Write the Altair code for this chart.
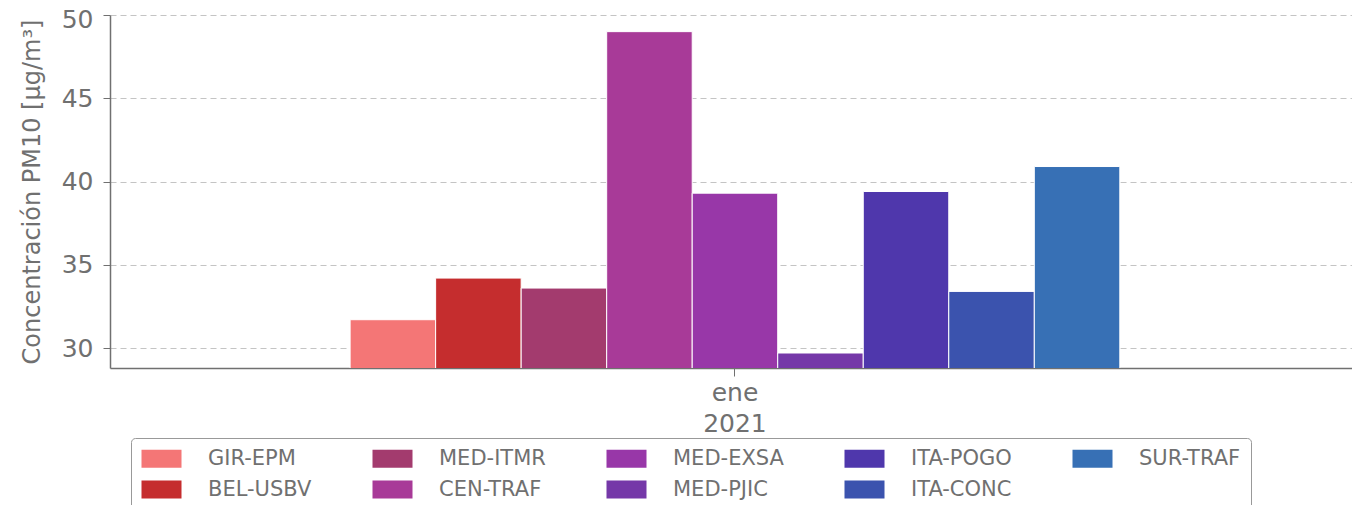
import altair as alt
import pandas as pd

stations = ["GIR-EPM", "BEL-USBV", "MED-ITMR", "CEN-TRAF", "MED-EXSA",
            "MED-PJIC", "ITA-POGO", "ITA-CONC", "SUR-TRAF"]
values = [31.7, 34.2, 33.6, 49.0, 39.3, 29.7, 39.4, 33.4, 40.9]
colors = ["#f47676", "#c52d2e", "#a33b6e", "#a83a98", "#9837a8",
          "#7538a8", "#4f37ac", "#3b53ae", "#3770b5"]
month = "ene 2021"
legend_order = ["GIR-EPM", "MED-ITMR", "MED-EXSA", "ITA-POGO", "SUR-TRAF",
                "BEL-USBV", "CEN-TRAF", "MED-PJIC", "ITA-CONC"]
y_ticks = [30, 35, 40, 45, 50]

df = pd.DataFrame({"mes": [month] * len(stations), "estacion": stations, "valor": values})
cmap = dict(zip(stations, colors))
legend_colors = [cmap[s] for s in legend_order]

GRAY = "#707070"
FONT = "DejaVu Sans"

chart = alt.Chart(df).mark_bar(stroke="white", strokeWidth=1, clip=True).encode(
    x=alt.X("mes:N", title=None,
            scale=alt.Scale(paddingInner=0, paddingOuter=0.3068, align=0.5084),
            axis=alt.Axis(labelExpr="split(datum.label, ' ')", labelAngle=0,
                          labelFontSize=25, labelColor=GRAY, labelFont=FONT,
                          labelLineHeight=31, labelPadding=4,
                          tickSize=8, tickColor=GRAY, domainColor=GRAY,
                          domainWidth=1.5, grid=False)),
    xOffset=alt.XOffset("estacion:N", sort=stations,
                        scale=alt.Scale(paddingInner=0, paddingOuter=0)),
    y=alt.Y("valor:Q", title="Concentración PM10 [μg/m³]",
            scale=alt.Scale(domain=[28.8, 50], zero=False, nice=False),
            axis=alt.Axis(values=y_ticks, labelFontSize=25, labelColor=GRAY,
                          labelFont=FONT, labelPadding=10, tickSize=7,
                          labelOffset={"condition": {"test": "datum.value == 50", "value": 4},
                                       "value": 0},
                          tickColor=GRAY, domainColor=GRAY, domainWidth=1.5,
                          titleFontSize=24, titleFont=FONT, titleColor=GRAY,
                          titleFontWeight="normal", titlePadding=17,
                          grid=True, gridColor="#c4c4c4", gridDash=[6, 4],
                          gridWidth=1.2)),
    color=alt.Color("estacion:N",
                    scale=alt.Scale(domain=legend_order, range=legend_colors),
                    legend=alt.Legend(title=None, orient="none", legendX=21, legendY=423,
                                      direction="horizontal", columns=5,
                                      symbolType="M-1,-0.9H3V0.9H-1Z",
                                      symbolSize=400, symbolStrokeWidth=0,
                                      symbolOpacity=1,
                                      labelFontSize=21, labelFont=FONT,
                                      labelColor=GRAY, labelOffset=46,
                                      columnPadding=60, rowPadding=9,
                                      padding=10, strokeColor="#999999",
                                      cornerRadius=4, fillColor="white",
                                      gridAlign="each")),
).properties(
    width=1242, height=353,
    autosize=alt.AutoSizeParams(type="none"),
    padding={"left": 102, "top": 7, "right": 0, "bottom": 137},
).configure_view(stroke=None)

chart.save("out.html", embed_options={"renderer": "svg", "actions": False})
